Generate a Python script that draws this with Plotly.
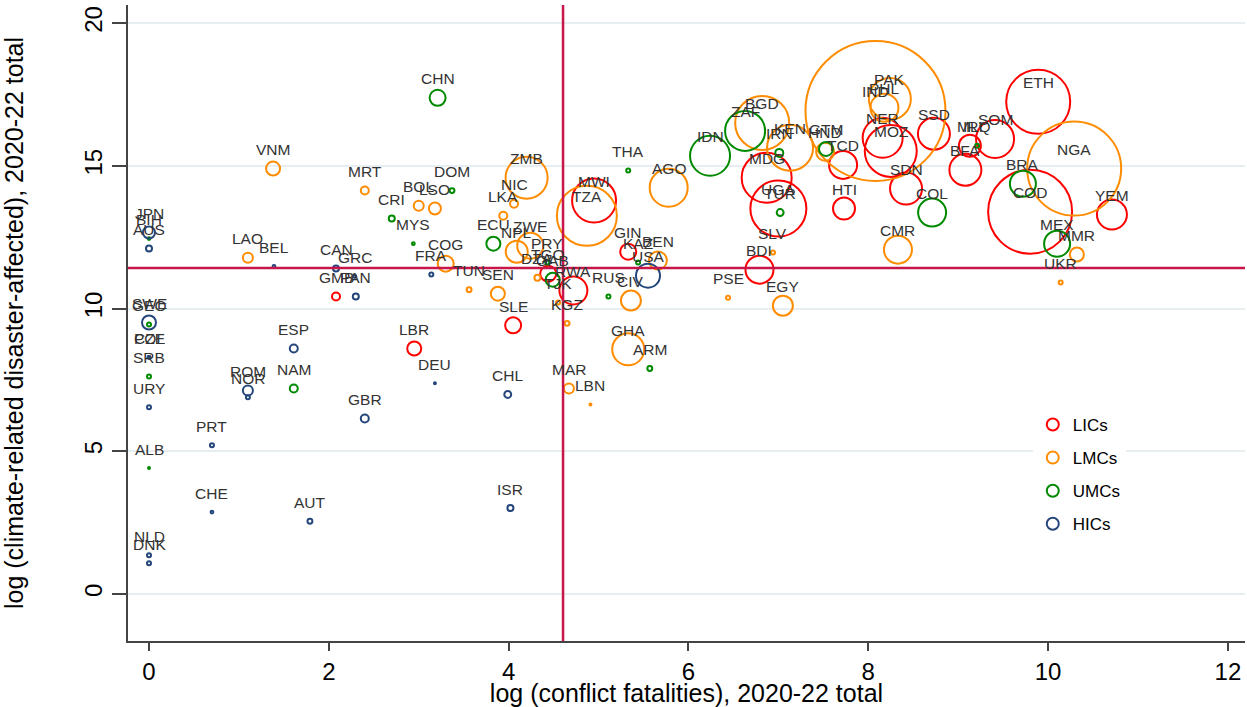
import plotly.graph_objects as go

# ---- data ----
codes = ["CHN","VNM","MRT","BOL","LSO","DOM","CRI","MYS","JPN","BIH","AUS","LAO","BEL","CAN","GRC",
         "GMB","PAN","FRA","COG","TUN","SWE","GEO","POL","CZE","SRB","URY","ALB","NLD","DNK","PRT",
         "CHE","AUT","ESP","ROM","NOR","NAM","GBR","LBR","DEU","CHL","ISR","MAR","LBN","GHA","ARM",
         "SLE","KGZ","SEN","ZMB","NIC","LKA","ECU","NPL","ZWE","PRY","DZA","GAB","TGO","TJK","RWA",
         "MWI","TZA","THA","AGO","IDN","GIN","KAZ","BEN","USA","RUS","CIV","PSE","ZAF","BGD","KEN",
         "IRN","GTM","HND","TCD","MDG","UGA","TUR","HTI","SLV","BDI","EGY","CMR","COL","SDN","SSD",
         "NER","MOZ","PAK","IND","PHL","MLI","IRQ","BFA","SOM","ETH","NGA","COD","BRA","YEM","MEX",
         "MMR","UKR"]
income = ["UMC","LMC","LMC","LMC","LMC","UMC","UMC","UMC","HIC","UMC","HIC","LMC","HIC","HIC","HIC",
          "LIC","HIC","HIC","LMC","LMC","HIC","UMC","HIC","HIC","UMC","HIC","UMC","HIC","HIC","HIC",
          "HIC","HIC","HIC","HIC","HIC","UMC","HIC","LIC","HIC","HIC","HIC","LMC","LMC","LMC","UMC",
          "LIC","LMC","LMC","LMC","LMC","LMC","UMC","LMC","LMC","UMC","LMC","UMC","LIC","LMC","LIC",
          "LIC","LMC","UMC","LMC","UMC","LIC","UMC","LMC","HIC","UMC","LMC","LMC","UMC","LMC","LMC",
          "UMC","UMC","LMC","LIC","LIC","LIC","UMC","LIC","LMC","LIC","LMC","LMC","UMC","LIC","LIC",
          "LIC","LIC","LMC","LMC","LMC","LIC","UMC","LIC","LIC","LIC","LMC","LIC","UMC","LIC","UMC",
          "LMC","LMC"]
log_fatalities = [3.21,1.38,2.40,3.00,3.18,3.37,2.70,2.94,0.00,0.00,0.00,1.10,1.39,2.08,2.29,
                  2.08,2.30,3.14,3.30,3.56,0.00,0.00,0.00,0.00,0.00,0.00,0.00,0.00,0.00,0.70,
                  0.70,1.79,1.61,1.10,1.10,1.61,2.40,2.95,3.18,3.99,4.02,4.67,4.91,5.33,5.57,
                  4.05,4.65,3.88,4.20,4.06,3.94,3.83,4.09,4.24,4.43,4.32,4.49,4.44,4.55,4.72,
                  4.95,4.87,5.33,5.78,6.24,5.33,5.44,5.66,5.55,5.11,5.36,6.44,6.63,6.82,7.13,
                  7.01,7.53,7.52,7.72,6.87,7.00,7.02,7.73,6.94,6.79,7.05,8.33,8.71,8.42,8.73,
                  8.16,8.25,8.24,8.08,8.18,9.13,9.21,9.08,9.41,9.89,10.29,9.80,9.72,10.71,10.10,
                  10.32,10.14]
log_affected = [17.38,14.90,14.13,13.60,13.50,14.13,13.15,12.27,12.66,12.45,12.10,11.78,11.47,11.40,11.12,
                10.42,10.42,11.19,11.57,10.66,9.51,9.44,8.29,8.29,7.62,6.54,4.41,1.36,1.08,5.21,
                2.87,2.55,8.60,7.13,6.89,7.20,6.15,8.60,7.38,6.99,3.01,7.20,6.64,8.57,7.90,
                9.41,9.48,10.52,14.58,13.67,13.25,12.27,11.99,12.20,11.61,11.08,11.01,11.22,10.21,10.63,
                13.78,13.25,14.83,14.23,15.35,11.99,11.61,11.68,11.15,10.42,10.28,10.38,16.22,16.50,15.63,
                15.45,15.59,15.49,15.03,14.58,13.50,13.36,13.50,11.96,11.36,10.10,12.06,13.36,14.20,16.12,
                15.98,15.52,17.34,16.92,17.03,15.70,15.70,14.86,15.94,17.24,14.90,13.39,14.37,13.29,12.27,
                11.89,10.91]
bubble_weight = [64,49,16,25,36,6,9,2,36,2,9,25,2,9,2,
                 16,9,4,64,6,49,4,2,2,4,4,1,4,4,4,
                 2,6,16,25,4,16,16,49,1,12,9,25,1,256,6,
                 64,6,49,441,16,16,49,121,169,4,9,49,64,4,196,
                 484,900,4,361,400,64,4,81,144,4,100,4,400,729,529,
                 16,49,81,196,625,784,12,121,4,196,100,196,196,256,256,
                 400,676,441,4900,196,121,4,256,361,1024,2209,1764,169,225,169,
                 49,4]

groups = ["LIC", "LMC", "UMC", "HIC"]
group_names = ["LICs", "LMCs", "UMCs", "HICs"]
group_colors = ["#FF0000", "#FF8C00", "#008A00", "#24467A"]

median_fatalities = 4.605   # log(100)
median_affected = 11.42

fig = go.Figure()

for g, name, col in zip(groups, group_names, group_colors):
    idx = [i for i, v in enumerate(income) if v == g]
    fig.add_trace(go.Scatter(
        x=[log_fatalities[i] for i in idx],
        y=[log_affected[i] for i in idx],
        mode="markers",
        name=name,
        legendgroup=name,
        marker=dict(
            symbol="circle-open",
            size=[bubble_weight[i] for i in idx],
            sizemode="area",
            sizeref=0.5,
            sizemin=1,
            color=col,
            opacity=1,
            line=dict(width=2, color=col),
        ),
        hoverinfo="skip",
    ))

annotations = []
for c, xv, yv in zip(codes, log_fatalities, log_affected):
    annotations.append(dict(
        x=xv, y=yv, xref="x", yref="y", text=c, showarrow=False,
        yshift=19, font=dict(family="Liberation Sans, Arial, sans-serif", size=15.5, color="#333333"),
    ))

shapes = [
    dict(type="line", xref="x", yref="paper", x0=median_fatalities, x1=median_fatalities, y0=0, y1=1,
         line=dict(color="#C8164A", width=2.5), layer="above"),
    dict(type="line", xref="paper", yref="y", x0=0, x1=1, y0=median_affected, y1=median_affected,
         line=dict(color="#C8164A", width=2.5), layer="above"),
]

axis_font = "Liberation Sans, Arial, sans-serif"

fig.update_layout(
    width=1247, height=707,
    margin=dict(l=128, r=2, t=5, b=66),
    paper_bgcolor="white", plot_bgcolor="white",
    annotations=annotations,
    shapes=shapes,
    showlegend=True,
    legend=dict(
        x=0.81, y=0.368, xanchor="left", yanchor="top",
        bgcolor="white", borderwidth=0,
        font=dict(family=axis_font, size=17, color="black"),
        itemsizing="constant", tracegroupgap=8, traceorder="grouped",
    ),
    xaxis=dict(
        range=[-0.2336, 12.19], tickvals=[0, 2, 4, 6, 8, 10, 12],
        showgrid=False, zeroline=False,
        showline=True, linecolor="#444444", linewidth=2,
        ticks="outside", ticklen=8, tickwidth=1.5, tickcolor="#444444",
        tickfont=dict(family=axis_font, size=24, color="black"),
        title=dict(text="log (conflict fatalities), 2020-22 total",
                   font=dict(family=axis_font, size=25, color="black"), standoff=0),
    ),
    yaxis=dict(
        range=[-1.646, 20.63], tickvals=[0, 5, 10, 15, 20], tickangle=-90,
        showgrid=True, gridcolor="#E6EEF2", gridwidth=2, zeroline=False,
        showline=True, linecolor="#444444", linewidth=2,
        ticks="outside", ticklen=14, tickwidth=1.5, tickcolor="#444444",
        tickfont=dict(family=axis_font, size=24, color="black"),
        title=dict(text="log (climate-related disaster-affected), 2020-22 total",
                   font=dict(family=axis_font, size=25, color="black"), standoff=52),
    ),
)

fig.write_html("out.html", config={"displayModeBar": False},
               post_script="document.body.style.margin='0';")
